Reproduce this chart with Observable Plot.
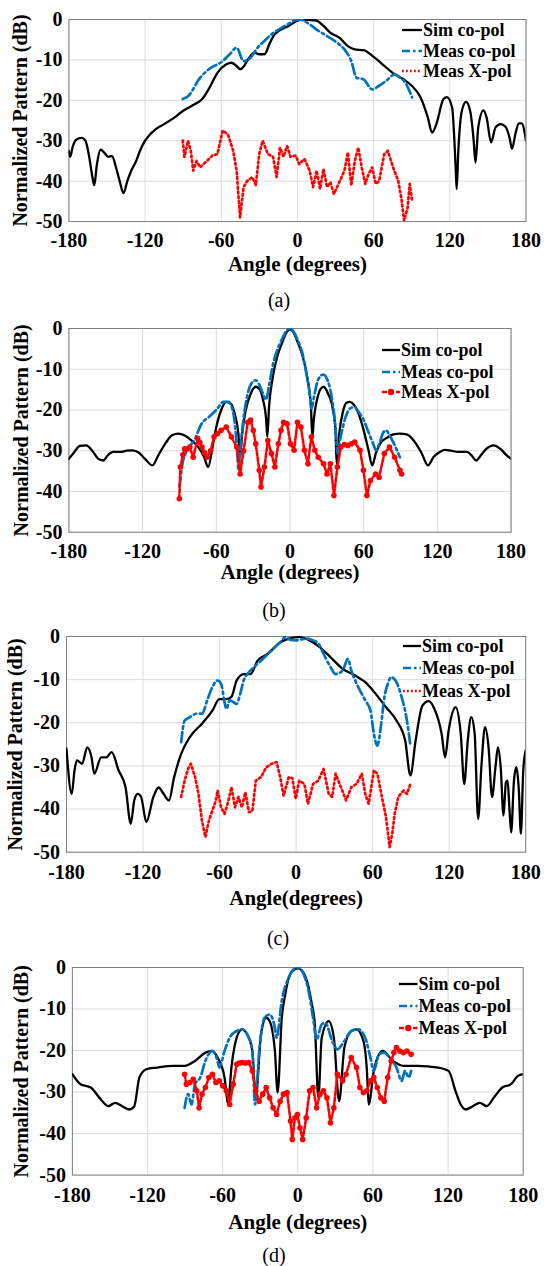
<!DOCTYPE html>
<html><head><meta charset="utf-8">
<script src="https://cdn.jsdelivr.net/npm/d3@7"></script>
<script src="https://cdn.jsdelivr.net/npm/@observablehq/plot@0.6"></script>
<style>
html,body{margin:0;padding:0;background:#fff;}
body{width:544px;height:1266px;position:relative;overflow:hidden;font-family:"Liberation Serif","Times New Roman",serif;}
.panel{position:absolute;left:0;}
.cap{position:absolute;font-size:20px;line-height:22px;transform:translateX(-50%);white-space:nowrap;}
.leg{position:absolute;font-weight:bold;font-size:18px;line-height:20px;white-space:nowrap;}
.sample{position:absolute;}
</style></head><body>
<script>
// ---------- labels / ticks ----------
const angleTicks = [-180, -120, -60, 0, 60, 120, 180];
const dbTicks = [0, -10, -20, -30, -40, -50];
const seriesNames = ["Sim co-pol", "Meas co-pol", "Meas X-pol"];
const panelCaptions = ["(a)", "(b)", "(c)", "(d)"];
const xLabels = ["Angle (degrees)", "Angle (degrees)", "Angle(degrees)", "Angle (degrees)"];
const yLabel = "Normalized Pattern (dB)";

// ---------- panel (a) ----------
const simA = [[-180,-32.5],[-179,-34],[-177,-31.5],[-174,-29.7],[-170,-29.3],[-167,-30],[-164,-34],[-161.5,-39],[-160,-41],[-158,-36],[-155,-32.2],[-152,-33],[-149,-34],[-146,-33.8],[-143,-36.5],[-140,-40],[-137,-43],[-134,-40],[-131,-37.5],[-127,-35],[-124,-32.5],[-120,-30],[-116,-28.4],[-111,-27],[-105,-25.9],[-97,-24.3],[-90,-22.6],[-81,-21],[-75,-19.7],[-70,-17.3],[-63,-13.2],[-56,-11.1],[-52,-10.7],[-48,-11.5],[-45,-12.3],[-42,-11.5],[-39.7,-10.3],[-34,-8.2],[-30,-8.6],[-26,-8.6],[-22,-6],[-19,-4.1],[-15,-2.9],[-7,-1.6],[0,-0.3],[3,0],[9,-0.1],[15,-0.3],[20.5,-1.6],[26,-3.3],[33,-4.5],[39.7,-6.6],[45,-7.4],[52,-7.6],[59,-9],[67,-11.1],[75,-13.2],[83.5,-14.8],[90,-16.4],[97,-19.3],[102.7,-24.3],[106,-28],[109.4,-25.9],[115,-19.7],[117.7,-19.2],[121.8,-21.8],[124.6,-36.6],[125.4,-42],[126.7,-32.5],[129.5,-22.6],[132.8,-20.4],[136,-22.6],[138.8,-30],[140.2,-35.4],[142.4,-26.7],[146.5,-22.5],[149,-24.3],[152.5,-30.4],[156,-26.7],[160,-25.9],[164,-26.6],[167,-29.2],[169,-32],[171.6,-28.4],[174.4,-25.7],[176.6,-25.7],[180,-30]];
const measA = [[-90.3,-19.7],[-86.2,-19],[-76.6,-14.4],[-69.8,-12.3],[-58.9,-10.3],[-53.4,-8.6],[-47.9,-7],[-42.4,-10.3],[-37,-9.5],[-31.5,-7],[-26,-5.3],[-20.5,-3.7],[-12.3,-2],[-5.5,-0.8],[0,0],[4.1,-0.2],[9.6,-1.2],[15.1,-2.5],[23.3,-4.1],[31.5,-5.8],[37,-7.4],[42.4,-10.3],[46.5,-14.4],[52,-14.8],[58.9,-17.3],[64.3,-16.4],[69.8,-15.2],[76.6,-13.6],[80.8,-14.4],[84.9,-15.6],[90.3,-19.3]];
const xpolA = [[-90.3,-30],[-89,-34],[-86.2,-30],[-84,-32.5],[-82.1,-37.4],[-79.4,-35],[-76.6,-36.6],[-73.9,-35.8],[-71.2,-35],[-67.1,-33.7],[-63,-33.3],[-58.9,-27.5],[-54.8,-28.4],[-50.6,-32.5],[-47.9,-37.4],[-45.2,-49],[-42.4,-41.5],[-39.7,-40],[-35.6,-39],[-32.8,-41],[-30.1,-33.3],[-27.4,-30],[-23.3,-33.3],[-19.2,-34],[-16.4,-39],[-13.7,-31.7],[-11,-34],[-8.2,-31.3],[-5.5,-34],[-1.4,-33.7],[1.4,-35.8],[5.5,-34.5],[9.6,-37.4],[12.3,-41.5],[15.1,-37.4],[17.8,-42],[20.5,-37],[23.3,-41.5],[26,-40.3],[28.7,-43.2],[32.9,-40.3],[37,-37.4],[39.7,-32.9],[42.4,-41.1],[45.2,-35],[47.9,-31.7],[50.6,-36.6],[53.4,-40.7],[56.1,-38.2],[58.9,-36.6],[61.6,-40.7],[64.3,-40],[68.4,-33.3],[71.2,-32.5],[75.3,-36.6],[79.4,-40],[82.1,-44.8],[84,-49.8],[86.8,-46.5],[88.4,-40.7],[90.3,-44.8]];

// ---------- panel (b) ----------
const simB = [[-180,-32],[-176,-30.5],[-171,-28.8],[-166,-28.7],[-161,-30],[-156,-32],[-152,-32.4],[-148,-31],[-144,-30.3],[-138,-30.3],[-133,-30],[-128,-29.9],[-123,-30.5],[-118,-32],[-112,-33.6],[-107,-31],[-101,-28],[-96,-26.2],[-91,-25.8],[-86,-26.2],[-80,-27.5],[-75,-29],[-70,-31.5],[-66.6,-34],[-63,-29],[-60,-24.2],[-56,-20],[-52,-18],[-48,-18.5],[-45,-21],[-42,-26],[-40.6,-31.6],[-39,-26],[-36,-20],[-32,-16],[-28,-14.3],[-25,-14.8],[-22,-17.5],[-19.5,-22],[-18.5,-26.6],[-17,-19],[-14,-11.9],[-10,-6.5],[-6,-3.2],[-3,-1],[0,-0.2],[3,-1],[6,-3.2],[10,-6.5],[14,-11.9],[17,-19],[18.2,-26.6],[19.5,-22],[22,-17.5],[25,-14.8],[27.3,-14.3],[31,-16],[35,-20],[37,-25],[38,-33.2],[40,-26],[43,-20.5],[46,-18.2],[48.5,-18],[52,-18.7],[56,-21],[60,-25],[64,-30],[66.9,-33.6],[70,-30.5],[74,-28],[79,-26.8],[84,-26],[89.5,-25.8],[95,-26],[101,-27.6],[107,-30.5],[112.3,-33.6],[117,-31.5],[121,-30.5],[126,-29.8],[131,-30],[137,-30.3],[144,-30.3],[148,-31.2],[151.6,-32.4],[155,-31.3],[160,-29.5],[165.7,-28.7],[171,-29.5],[176,-31],[180,-32]];
const measB = [[-90,-38.9],[-88,-34],[-84,-30],[-78,-27.5],[-72,-23.4],[-66,-21.7],[-60,-20],[-54,-18],[-50,-18],[-46,-21],[-43,-30],[-42,-34.8],[-40,-28],[-38,-22.5],[-34,-15.5],[-30,-13],[-28,-12.7],[-25,-13.8],[-22,-16],[-19.5,-17.5],[-17,-14],[-14,-9],[-10,-5],[-6,-2.3],[-3,-0.6],[0,0],[3,-0.8],[6,-2.6],[10,-6],[13,-10.5],[16,-16],[17.5,-19.7],[20,-16],[23,-12.5],[27,-11.3],[31,-13],[34,-17],[37,-24],[38.7,-30.7],[41,-27],[45,-22],[49,-19.6],[52.7,-19.3],[56,-20.5],[60,-22.5],[64,-25.5],[68,-28.5],[70,-29.9],[73,-28],[76,-25.5],[78.3,-25],[81,-26.2],[85,-28.5],[89.5,-31.6]];
const xpolB = [[-90.1,-41.8],[-89.2,-34],[-87.2,-31],[-85.8,-29.5],[-83.7,-29.6],[-81.6,-29.1],[-78.8,-31.6],[-75.1,-27],[-73.4,-28],[-71.7,-29.1],[-69.5,-30.5],[-67.4,-31.6],[-64.6,-30],[-61.8,-26.6],[-59,-25.8],[-56.1,-25],[-51.9,-24.2],[-47.7,-26.6],[-43.4,-29.1],[-40.6,-35.7],[-37.8,-30],[-34.4,-23],[-32.1,-22.5],[-29.9,-25],[-27.9,-28.3],[-25,-34.8],[-23.6,-38.9],[-20.8,-34],[-18,-27.5],[-15.1,-30.7],[-12.3,-34],[-9.5,-28.3],[-7.3,-25],[-5.2,-23],[-2.4,-23.4],[0.4,-28.3],[3.3,-29.9],[6.1,-23],[8.9,-24.2],[11.7,-29.9],[14.6,-33.2],[17.4,-26.6],[20.2,-29.9],[23,-31.6],[27.3,-33.2],[30.1,-35.7],[32.9,-33.2],[35.8,-41],[38.6,-34],[41.4,-29.1],[44.3,-28.5],[47.1,-28.7],[50,-28.3],[52.7,-27.9],[57,-29.9],[59.8,-34.8],[62.6,-41],[65.5,-37.3],[69.7,-35.7],[72.5,-36.5],[76.8,-30.7],[81,-29.1],[85.2,-31.6],[89.5,-34.8],[90.9,-35.7]];

// ---------- panel (c) ----------
const simC = [[-180,-26],[-175.9,-36.5],[-173.7,-31],[-171.8,-28.7],[-167.8,-29.5],[-163.7,-25.7],[-160.4,-28],[-158.2,-31.8],[-152.8,-28],[-148.7,-28],[-144.6,-26.8],[-139.2,-31],[-133.7,-35],[-129.6,-43.4],[-126.9,-38],[-124.2,-36.5],[-121.5,-37.2],[-117.4,-43],[-111.9,-37.2],[-107.8,-35],[-103.8,-36.5],[-99.7,-38],[-95.6,-32.6],[-90.1,-27.2],[-83.3,-23.3],[-73.8,-20.2],[-65.6,-17.2],[-60.2,-14.5],[-54.7,-14.5],[-50.7,-14],[-46.6,-10.2],[-41.1,-8.7],[-35.7,-8.7],[-30.2,-5.6],[-22.1,-4],[-13.9,-1.7],[-5.7,-0.5],[2.5,-0.15],[10.6,-0.9],[18.8,-2.5],[27,-4.8],[36.5,-7.5],[46,-9],[54.2,-10.6],[62.4,-13.3],[70.5,-16.4],[78.7,-19.5],[85.5,-24.1],[89.6,-32.2],[93.7,-24.1],[99.1,-16],[104,-15],[108,-16.5],[114.1,-22.6],[116.8,-28],[119.6,-21.8],[125,-16.4],[129.1,-22.6],[131.8,-34.2],[134.6,-24],[137.3,-18.7],[140,-22.6],[142.7,-42.3],[145.4,-29.5],[148.1,-21],[150.9,-25.7],[153.6,-37.2],[156.3,-30.3],[158.2,-25.7],[160.4,-30.3],[162.6,-41.5],[164.5,-33.8],[165.8,-33.4],[167.2,-39.6],[168.6,-45.4],[170.8,-33.4],[172.7,-30.3],[174.6,-35.5],[176.2,-45.7],[178.1,-31],[180,-26.4]];
const measC = [[-90.1,-24.5],[-87.4,-19.5],[-83.3,-18.7],[-77.9,-17.9],[-73.8,-17.9],[-69.7,-14.8],[-65.6,-11.7],[-61.5,-10.2],[-58.8,-11],[-56.1,-15.2],[-54.7,-16.8],[-52,-14.8],[-49.3,-15.2],[-46.6,-15.6],[-43.8,-13.3],[-41.1,-10.2],[-37,-8.3],[-33,-7.1],[-27.5,-5.6],[-22.1,-4],[-16.6,-2.5],[-12.5,-1.3],[-8.4,-0.15],[-4.4,-0.8],[-0.3,-0.9],[3.8,-0.7],[7.9,-0.5],[13.3,-0.9],[17.4,-1.6],[21.5,-4],[27,-7.1],[31,-8.7],[36.5,-7.9],[40.6,-5.2],[43.3,-7.9],[48.7,-11.7],[54.2,-14.8],[58.3,-17.2],[61,-22.6],[63.7,-25.3],[66.4,-21],[69.2,-14.1],[71.9,-11],[74.6,-9.4],[78.7,-10.6],[82.8,-14.1],[86.9,-19.5],[89.6,-25.3]];
const xpolC = [[-90.1,-37.2],[-87.4,-33.4],[-84.7,-30.7],[-82.5,-29.5],[-79.2,-32.6],[-76.5,-36.5],[-73.8,-42.7],[-71.1,-46.5],[-68.4,-42.7],[-65.6,-40.3],[-62.9,-38],[-61.5,-35.7],[-58.8,-39.6],[-56.1,-41.1],[-53.4,-38.5],[-50.7,-34.9],[-47.9,-39.6],[-45.2,-37.2],[-42.5,-39.6],[-39.8,-36.1],[-37,-40.7],[-34.3,-40.5],[-31.6,-33.4],[-27.5,-32.6],[-23.4,-30.3],[-19.3,-29.5],[-15.3,-29.1],[-12.5,-32.6],[-9.8,-36.9],[-5.7,-32.6],[-3,-32.8],[-0.3,-37.6],[2.5,-33.4],[6.5,-34.2],[9.3,-38.8],[13.3,-34.2],[17.4,-33.4],[21.5,-30.7],[25.6,-36.5],[28.3,-37.2],[31,-31.8],[35.1,-34.9],[39.2,-38],[43.3,-34.9],[47.4,-34.2],[51.5,-31.8],[54.2,-36.5],[56.9,-38.8],[61,-31],[63.7,-31.8],[67.8,-38],[70.5,-41.9],[73.3,-48.8],[75.4,-45.7],[77.3,-41.1],[80.1,-37.2],[84.2,-35.7],[86.9,-36.5],[89.6,-34.2]];

// ---------- panel (d) ----------
const simD = [[-180,-25.7],[-173.6,-28.1],[-165.3,-28.9],[-158.3,-31.4],[-151.4,-33.4],[-145.9,-32.6],[-140.3,-33.4],[-134.8,-34.2],[-130.6,-33.4],[-126.5,-26.5],[-120.9,-24.5],[-112.6,-24.1],[-98.7,-23.7],[-90.4,-23.7],[-82.1,-22.5],[-73.8,-20.5],[-68.2,-20.1],[-64.1,-21.7],[-58.5,-26.5],[-55.7,-33],[-53,-24.1],[-48.8,-16.9],[-44.6,-14.9],[-40.5,-16.1],[-36.3,-20.1],[-33.6,-31.4],[-29.4,-16.1],[-25.2,-12.1],[-22.5,-12.9],[-18.3,-20.1],[-16.1,-30.1],[-12.8,-12.1],[-10,-6.5],[-7.2,-2.4],[-4,-0.8],[0,-0.2],[4,-1],[8,-4],[11,-8.5],[13.6,-13.7],[16.4,-31.4],[19.1,-16.9],[24.7,-12.9],[28.8,-16.9],[33,-32.2],[37.2,-19.3],[42.7,-15.3],[46.9,-14.9],[52.4,-17.7],[55.2,-24.9],[56.6,-33],[60.7,-24.9],[64.9,-20.9],[67.7,-20.1],[76,-22.5],[84.3,-23.7],[95.4,-23.7],[112,-24.1],[120.4,-24.9],[125.9,-29.7],[130.1,-33],[134.2,-34.2],[139.8,-33.4],[145.3,-32.6],[150.9,-33.4],[156.4,-31.4],[163.3,-28.9],[170.3,-28.1],[175.8,-26.1],[180,-25.7]];
const measD = [[-90.4,-33.8],[-87.6,-30.5],[-84.9,-33],[-82.1,-28.1],[-77.9,-26.5],[-73.8,-22.5],[-68.2,-20.1],[-64.1,-22.5],[-62.7,-24.1],[-58.5,-20.1],[-54.4,-16.9],[-48.8,-15.3],[-44.6,-14.9],[-39.1,-16.9],[-36.3,-20.1],[-34.1,-33],[-30.8,-20.1],[-26.6,-12.1],[-22.5,-11.3],[-18.3,-14.5],[-16.9,-16.9],[-12.8,-8],[-7.2,-2.4],[-3.5,-0.5],[0,0],[4,-1.2],[8,-4.8],[12.2,-12.1],[15,-17.3],[19.1,-13.7],[21.9,-13.3],[27.5,-17.7],[31.6,-19.7],[37.2,-17.7],[42.7,-15.3],[48.3,-14.9],[53.8,-16.9],[58,-21.7],[60.7,-24.9],[64.9,-20.9],[69,-20.5],[73.2,-21.7],[78.8,-24.1],[82.9,-27.3],[85.7,-24.9],[88.5,-26.5],[90.5,-24.9]];
const xpolD = [[-90.4,-25.7],[-89,-28.1],[-86.2,-27.7],[-83.5,-26.9],[-80.7,-29.7],[-78.8,-33.8],[-76.5,-30.5],[-73.8,-28.9],[-71,-26.5],[-68.2,-25.7],[-65.4,-27.7],[-62.7,-27.3],[-59.9,-28.5],[-57.1,-29.7],[-54.4,-33],[-51.6,-28.1],[-48.8,-23.3],[-46.7,-23],[-44.6,-22.9],[-41.8,-23],[-39.1,-22.9],[-36.3,-24.9],[-33.6,-29.7],[-30.8,-32.2],[-28,-30.5],[-25.2,-28.9],[-22.5,-31.4],[-19.7,-33.8],[-16.9,-35.4],[-14.1,-32.2],[-11.4,-30.5],[-8.6,-30.1],[-5.8,-37],[-4.4,-41.4],[-2.2,-36.2],[-0.3,-35.4],[1.7,-38.6],[3.9,-41.4],[6.7,-36.2],[9.4,-29.7],[12.2,-28.9],[15,-33.8],[17.7,-30.5],[20.5,-29.7],[23.3,-31.4],[26.1,-37.4],[28.8,-33.8],[31.6,-25.7],[35.8,-27.3],[38.5,-25.7],[42.7,-21.7],[46.9,-24.1],[49.6,-28.9],[52.4,-30.1],[55.2,-29.7],[58,-27.3],[60.7,-26.5],[63.5,-28.9],[66.3,-31.4],[69,-32.2],[71.8,-26.5],[74.6,-22.5],[76.7,-20.5],[78.8,-19.3],[81.5,-20.1],[84.3,-20.5],[87.1,-20.1],[90.5,-20.9]];

// ---------- layout (page pixel positions) ----------
const layout = [
  {l:68.4, r:525.5, t:19, b:221, xlo:49, ylo:55.8, pad:11, cap:[279,300], leg:{sx:402, tx:423, ys:[30,50.5,71]}, markers:false},
  {l:68.4, r:510.6, t:328, b:531.7, xlo:47, ylo:55.3, pad:11.4, cap:[274,610], leg:{sx:382, tx:401, ys:[350,371.5,392]}, markers:true},
  {l:66, r:525.2, t:636, b:851.7, xlo:53, ylo:58.9, pad:12.4, cap:[278,938], leg:{sx:403, tx:422, ys:[646,668,690.5]}, markers:false},
  {l:71.9, r:522.7, t:966.7, b:1174.3, xlo:54, ylo:58.8, pad:12.8, cap:[274,1255], leg:{sx:399, tx:418.5, ys:[984,1006,1028]}, markers:true}
];
const panels = [[simA, measA, xpolA], [simB, measB, xpolB], [simC, measC, xpolC], [simD, measD, xpolD]];

const BLUE = "#0072BD", RED = "#FF0000";
const fx = d => d[0], fy = d => d[1];
const FONT = "'Liberation Serif', 'Times New Roman', serif";

panels.forEach(([sim, meas, xpol], i) => {
  const L = layout[i];
  const top = L.t - 19;
  const height = Math.round(L.b + 62 - top);
  const plot = Plot.plot({
    width: 544, height,
    marginTop: L.t - top, marginBottom: height - (L.b - top),
    marginLeft: L.l, marginRight: 544 - L.r,
    style: {fontFamily: FONT, fontSize: "21px", fontWeight: "bold", color: "#000", background: "transparent", overflow: "visible"},
    x: {domain: [-180, 180]},
    y: {domain: [-50, 0]},
    marks: [
      Plot.gridX(angleTicks, {stroke: "#dcdcdc", strokeOpacity: 1, strokeWidth: 1}),
      Plot.gridY(dbTicks, {stroke: "#dcdcdc", strokeOpacity: 1, strokeWidth: 1}),
      Plot.axisX(angleTicks, {tickSize: 0, tickPadding: L.pad, fontSize: 20, tickFormat: d => String(d), label: null}),
      Plot.axisX({ticks: [], tickSize: 0, label: xLabels[i], labelAnchor: "center", labelOffset: L.xlo, labelArrow: "none", fontSize: 21}),
      Plot.axisY(dbTicks, {tickSize: 0, tickPadding: 6.5, fontSize: 20, tickFormat: d => String(d), label: yLabel, labelAnchor: "center", labelOffset: L.ylo, labelArrow: "none"}),
      Plot.frame({stroke: "#808080", strokeWidth: 1}),
      Plot.line(sim, {x: fx, y: fy, stroke: "#000", strokeWidth: 2.3, clip: true, curve: "monotone-x"}),
      Plot.line(meas, {x: fx, y: fy, stroke: BLUE, strokeWidth: 2.7, strokeDasharray: "10 3.5 2.5 3.5", clip: true, curve: "monotone-x"}),
      L.markers
        ? Plot.line(xpol, {x: fx, y: fy, stroke: RED, strokeWidth: 2.6, strokeDasharray: "4 2", clip: true})
        : Plot.line(xpol, {x: fx, y: fy, stroke: RED, strokeWidth: 2.7, strokeDasharray: "1.8 3", clip: true}),
      L.markers ? Plot.dot(xpol, {x: fx, y: fy, r: 2.8, fill: RED, stroke: "none", clip: true}) : null
    ]
  });
  const wrap = document.createElement("div");
  wrap.className = "panel";
  wrap.style.top = top + "px";
  wrap.appendChild(plot);
  document.body.appendChild(wrap);

  // legend
  const g = L.leg;
  seriesNames.forEach((name, k) => {
    const yc = g.ys[k];
    const w = g.tx - g.sx - 1;
    const ns = "http://www.w3.org/2000/svg";
    const svg = document.createElementNS(ns, "svg");
    svg.setAttribute("width", w); svg.setAttribute("height", 10);
    svg.setAttribute("class", "sample");
    svg.style.left = g.sx + "px"; svg.style.top = (yc - 5) + "px";
    const ln = document.createElementNS(ns, "line");
    ln.setAttribute("x1", 0); ln.setAttribute("x2", w); ln.setAttribute("y1", 5); ln.setAttribute("y2", 5);
    if (k === 0) { ln.setAttribute("stroke", "#000"); ln.setAttribute("stroke-width", 2.3); }
    if (k === 1) { ln.setAttribute("stroke", BLUE); ln.setAttribute("stroke-width", 2.7); ln.setAttribute("stroke-dasharray", "8 3 2.5 3"); }
    if (k === 2) {
      ln.setAttribute("stroke", RED);
      if (L.markers) { ln.setAttribute("stroke-width", 2.4); ln.setAttribute("stroke-dasharray", "5 2"); }
      else { ln.setAttribute("stroke-width", 2.7); ln.setAttribute("stroke-dasharray", "1.8 2.2"); }
    }
    svg.appendChild(ln);
    if (k === 2 && L.markers) {
      const c = document.createElementNS(ns, "circle");
      c.setAttribute("cx", w / 2); c.setAttribute("cy", 5); c.setAttribute("r", 3.2); c.setAttribute("fill", RED);
      svg.appendChild(c);
    }
    document.body.appendChild(svg);
    const t = document.createElement("div");
    t.className = "leg";
    t.textContent = name;
    t.style.left = g.tx + "px"; t.style.top = (yc - 10) + "px";
    document.body.appendChild(t);
  });

  // caption
  const cap = document.createElement("div");
  cap.className = "cap";
  cap.textContent = panelCaptions[i];
  cap.style.left = L.cap[0] + "px"; cap.style.top = (L.cap[1] - 11) + "px";
  document.body.appendChild(cap);
});
</script>
</body></html>
